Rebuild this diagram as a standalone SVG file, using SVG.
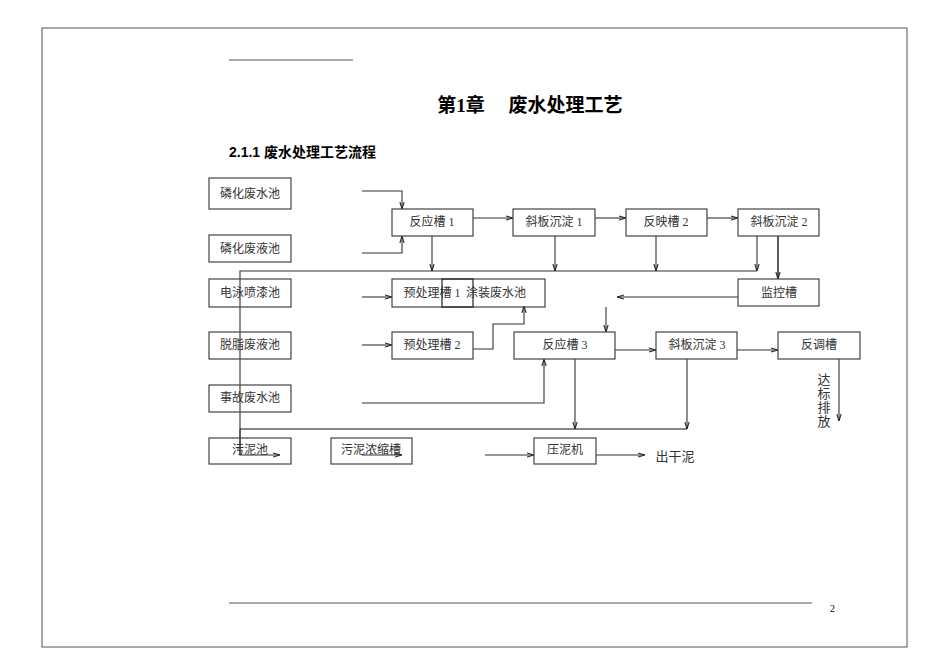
<svg xmlns="http://www.w3.org/2000/svg" width="950" height="672" viewBox="0 0 950 672">
<defs>
<marker id="a" viewBox="0 0 10 10" refX="10" refY="5" markerWidth="7" markerHeight="7" orient="auto" markerUnits="userSpaceOnUse">
<path d="M0,2 L10,5 L0,8" fill="none" stroke="#222" stroke-width="1.5"/>
</marker>
<style>
.b{fill:#fff;stroke:#444;stroke-width:1.2}
.t{font-family:"Liberation Serif","Noto Sans CJK SC",serif;font-size:12px;fill:#333;text-anchor:middle}
.c{fill:none;stroke:#333;stroke-width:1.1}
.c2{fill:none;stroke:#333;stroke-width:1.1;marker-end:url(#a)}
</style>
</defs>
<rect x="0" y="0" width="950" height="672" fill="#fff"/>
<rect x="42" y="28" width="865" height="619" fill="none" stroke="#555" stroke-width="1"/>
<line x1="229" y1="60" x2="353" y2="60" stroke="#555"/>
<line x1="229" y1="603" x2="812" y2="603" stroke="#555"/>
<text x="830" y="612" style="font-family:'Liberation Serif',serif;font-size:10px">2</text>
<text x="530" y="112" text-anchor="middle" style="font-family:'Liberation Serif','Noto Sans CJK SC',serif;font-size:19px;font-weight:bold">第1章　  废水处理工艺</text>
<text x="229" y="157" style="font-family:'Liberation Sans','Noto Sans CJK SC',sans-serif;font-size:14px;font-weight:bold">2.1.1 废水处理工艺流程</text>

<g id="connectors">
<polyline class="c2" points="362,191 402,191 402,209"/>
<polyline class="c2" points="362,253 402,253 402,236"/>
<line class="c2" x1="473" y1="218" x2="513" y2="218"/>
<line class="c2" x1="595" y1="218" x2="626" y2="218"/>
<line class="c2" x1="707" y1="218" x2="738" y2="218"/>
<polyline class="c" points="240,455 240,271 757,271"/>
<line class="c2" x1="432" y1="236" x2="432" y2="271"/>
<line class="c2" x1="555" y1="236" x2="555" y2="271"/>
<line class="c2" x1="656" y1="236" x2="656" y2="271"/>
<line class="c2" x1="757" y1="236" x2="757" y2="271"/>
<line class="c2" x1="778" y1="236" x2="778" y2="279" style="stroke-width:1.6"/>
<line class="c2" x1="738" y1="297" x2="617" y2="297"/>
<line class="c2" x1="606" y1="307" x2="606" y2="332"/>
<line class="c2" x1="362" y1="297" x2="392" y2="297"/>
<line class="c2" x1="362" y1="345" x2="392" y2="345"/>
<polyline class="c2" points="473,349 493,349 493,324 524,324 524,306"/>
<line class="c2" x1="615" y1="350" x2="656" y2="350"/>
<line class="c2" x1="737" y1="350" x2="778" y2="350"/>
<line class="c2" x1="839" y1="359" x2="839" y2="421"/>
<polyline class="c2" points="362,403 544,403 544,359"/>
<line class="c" x1="240" y1="429" x2="687" y2="429" style="stroke:#111"/>
<line class="c2" x1="575" y1="359" x2="575" y2="429"/>
<line class="c2" x1="687" y1="359" x2="687" y2="429"/>
<polyline class="c2" points="240,429 240,455 280,455"/>
<line class="c2" x1="362" y1="455" x2="402" y2="455"/>
<line class="c2" x1="485" y1="455" x2="534" y2="455"/>
<line class="c2" x1="596" y1="455" x2="645" y2="455"/>
</g>

<g id="n1"><rect class="b" x="209" y="178" width="82" height="31"/><text class="t" x="250" y="198">磷化废水池</text></g>
<g id="n2"><rect class="b" x="209" y="235" width="82" height="27"/><text class="t" x="250" y="253">磷化废液池</text></g>
<g id="n3"><rect class="b" x="209" y="279" width="82" height="28" style="fill:none"/><text class="t" x="250" y="297">电泳喷漆池</text></g>
<g id="n4"><rect class="b" x="209" y="332" width="82" height="27" style="fill:none"/><text class="t" x="250" y="349">脱脂废液池</text></g>
<g id="n5"><rect class="b" x="209" y="385" width="82" height="27" style="fill:none"/><text class="t" x="250" y="402">事故废水池</text></g>
<g id="n6"><rect class="b" x="209" y="438" width="82" height="26" style="fill:none"/><text class="t" x="250" y="454">污泥池</text></g>
<g id="n7"><rect class="b" x="392" y="209" width="81" height="27"/><text class="t" x="432" y="226">反应槽 1</text></g>
<g id="n8"><rect class="b" x="513" y="209" width="82" height="27"/><text class="t" x="554" y="226">斜板沉淀 1</text></g>
<g id="n9"><rect class="b" x="626" y="209" width="81" height="27"/><text class="t" x="666" y="226">反映槽 2</text></g>
<g id="n10"><rect class="b" x="738" y="209" width="81" height="27"/><text class="t" x="779" y="226">斜板沉淀 2</text></g>
<g id="n11"><rect class="b" x="392" y="279" width="153" height="28" style="fill:none"/><text class="t" x="432" y="297">预处理槽 1</text></g>
<g id="n12"><rect class="b" x="442" y="279" width="31" height="28" style="fill:none;stroke:#222"/><text class="t" x="496" y="297">涂装废水池</text></g>
<g id="n13"><rect class="b" x="738" y="279" width="81" height="27"/><text class="t" x="779" y="297">监控槽</text></g>
<g id="n14"><rect class="b" x="392" y="332" width="81" height="27"/><text class="t" x="432" y="349">预处理槽 2</text></g>
<g id="n15"><rect class="b" x="514" y="332" width="101" height="27"/><text class="t" x="565" y="349">反应槽 3</text></g>
<g id="n16"><rect class="b" x="656" y="332" width="81" height="27"/><text class="t" x="697" y="349">斜板沉淀 3</text></g>
<g id="n17"><rect class="b" x="778" y="332" width="82" height="27"/><text class="t" x="819" y="349">反调槽</text></g>
<g id="n18"><rect class="b" x="331" y="438" width="81" height="26" style="fill:none"/><text class="t" x="371" y="454">污泥浓缩槽</text></g>
<g id="n19"><rect class="b" x="534" y="438" width="62" height="26"/><text class="t" x="565" y="454">压泥机</text></g>
<g id="n20"><text class="t" x="675" y="461" style="font-size:13px">出干泥</text></g>
<g id="n21"><text class="t" x="824" y="384" style="font-size:13px">达</text><text class="t" x="824" y="398" style="font-size:13px">标</text><text class="t" x="824" y="412" style="font-size:13px">排</text><text class="t" x="824" y="426" style="font-size:13px">放</text></g>
</svg>
